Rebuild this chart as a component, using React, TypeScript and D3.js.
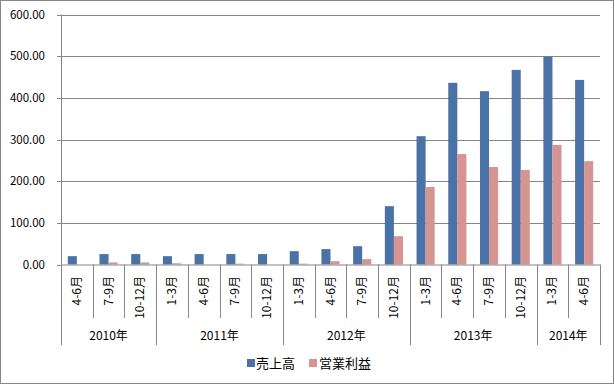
import React from "react";
import * as d3 from "d3";

const years = ["2010年", "2011年", "2012年", "2013年", "2014年"];
const quarters = [
  ["4-6月", "7-9月", "10-12月"],
  ["1-3月", "4-6月", "7-9月", "10-12月"],
  ["1-3月", "4-6月", "7-9月", "10-12月"],
  ["1-3月", "4-6月", "7-9月", "10-12月"],
  ["1-3月", "4-6月"],
];
const sales = [20, 25, 25, 20, 25, 25, 25, 32, 37, 44, 140, 308, 436, 416, 467, 499, 443];
const profit = [0, 5, 5, 3, 0, 2, 0, 2, 8, 13, 68, 186, 265, 234, 227, 287, 248];
const seriesNames = ["売上高", "営業利益"];
const yTicks = [0, 100, 200, 300, 400, 500, 600];

const colors = ["#4A72A6", "#D69593"];
const W = 615, H = 385;
const left = 61, right = 600, top = 14.5, bottom = 264.5;
const font = "'Noto Sans CJK JP', 'DejaVu Sans', sans-serif";

export default function App() {
  const cats: { year: number; label: string; idx: number }[] = [];
  quarters.forEach((qs, yi) => qs.forEach((q) => cats.push({ year: yi, label: q, idx: cats.length })));
  const x = d3.scaleBand<number>().domain(cats.map((c) => c.idx)).range([left, right]).paddingInner(0).paddingOuter(0);
  const y = d3.scaleLinear().domain([0, 600]).range([bottom, top]);
  const bw = x.bandwidth() / 3.5;
  const x1 = d3.scaleBand<number>().domain([0, 1]).range([0, bw * 2]);
  const data = [sales, profit];
  const yearStarts: number[] = [];
  let acc = 0;
  quarters.forEach((qs) => { yearStarts.push(acc); acc += qs.length; });
  const gray = "#868686";
  return (
    <svg width={W} height={H} style={{ position: "absolute", left: 0, top: 0 }}>
      <rect x={0.5} y={0.5} width={613} height={383} fill="white" stroke={gray} strokeWidth={1} />
      {yTicks.map((t) => (
        <g key={t}>
          {t > 0 && <line x1={left} x2={right} y1={Math.round(y(t)) + 0.5} y2={Math.round(y(t)) + 0.5} stroke={gray} />}
          <line x1={left - 4} x2={left} y1={Math.round(y(t)) + 0.5} y2={Math.round(y(t)) + 0.5} stroke={gray} />
          <text x={45} y={y(t) + 4} textAnchor="end" fontSize={11.5} fontFamily={font} fill="#000">{t.toFixed(2)}</text>
        </g>
      ))}
      {data.map((s, si) =>
        s.map((v, i) => (
          <rect key={si + "-" + i} x={(x(i) as number) + bw * 0.75 + (x1(si) as number)} width={x1.bandwidth()} y={y(v)} height={bottom - y(v)} fill={colors[si]} />
        ))
      )}
      <line x1={left} x2={right} y1={bottom + 0.5} y2={bottom + 0.5} stroke={gray} />
      <line x1={left + 0.5} x2={left + 0.5} y1={top} y2={345} stroke={gray} />
      {cats.map((c) => {
        const xs = Math.round((x(c.idx) as number) + x.bandwidth()) + 0.5;
        const isYearEnd = yearStarts.includes(c.idx + 1) || c.idx === cats.length - 1;
        return <line key={"t" + c.idx} x1={xs} x2={xs} y1={bottom} y2={isYearEnd ? 345 : 318} stroke={gray} />;
      })}
      {cats.map((c) => {
        const cx = (x(c.idx) as number) + x.bandwidth() / 2;
        return (
          <text key={"l" + c.idx} transform={`translate(${cx + 4},276) rotate(-90)`} textAnchor="end" fontSize={12} fontFamily={font} fill="#000">{c.label}</text>
        );
      })}
      {years.map((yr, yi) => {
        const s = x(yearStarts[yi]) as number;
        const e = (x(yearStarts[yi] + quarters[yi].length - 1) as number) + x.bandwidth();
        return <text key={yr} x={(s + e) / 2} y={340} textAnchor="middle" fontSize={12} fontFamily={font} fill="#000">{yr}</text>;
      })}
      <g fontFamily={font} fontSize={13}>
        <rect x={247} y={359} width={8} height={8} fill={colors[0]} />
        <text x={256} y={368} fill="#000">{seriesNames[0]}</text>
        <rect x={309} y={359} width={8} height={8} fill={colors[1]} />
        <text x={319} y={368} fill="#000">{seriesNames[1]}</text>
      </g>
    </svg>
  );
}
